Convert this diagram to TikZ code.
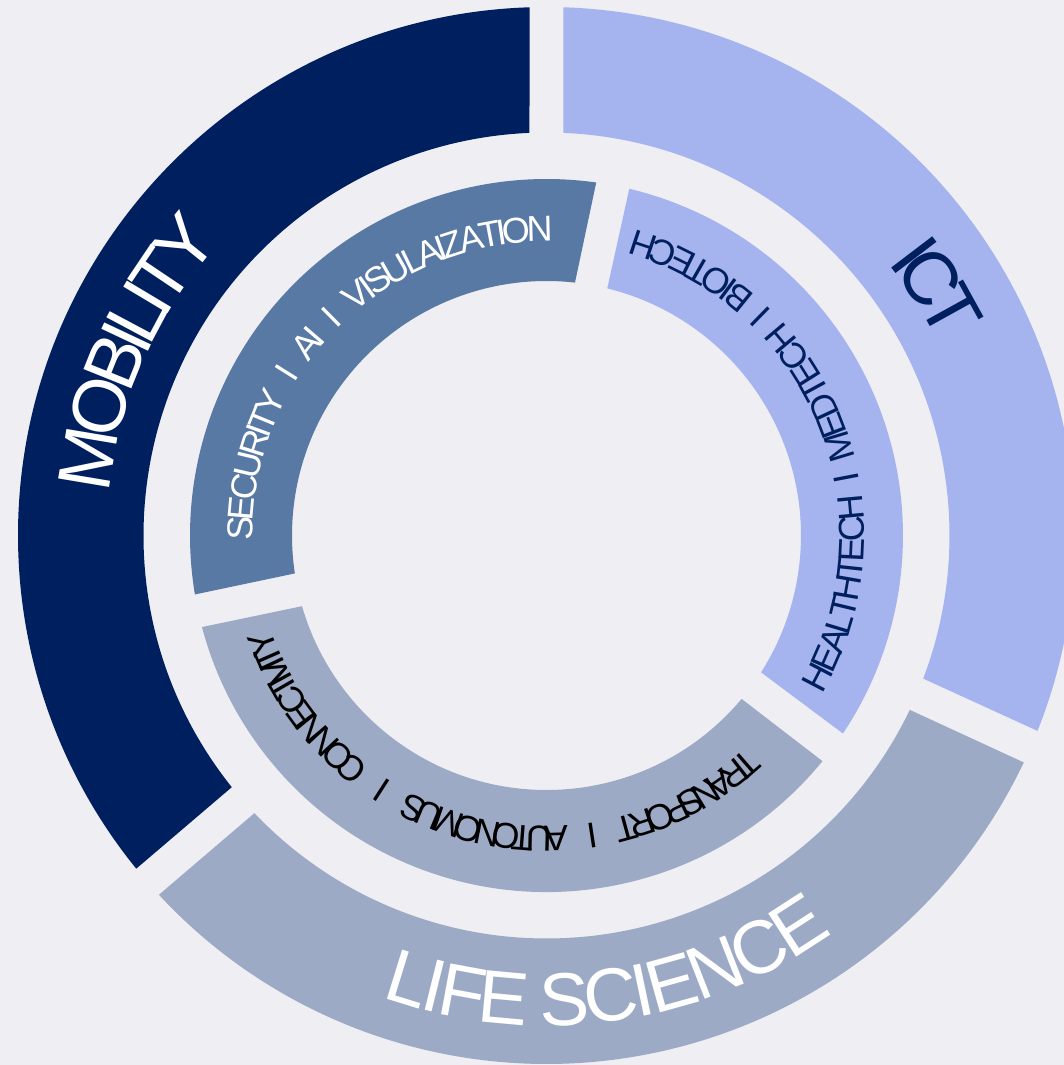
\documentclass[tikz,border=0pt]{standalone}
\usepackage{fontspec}
\setmainfont{Liberation Sans}
\definecolor{bg}{RGB}{239,238,243}
\definecolor{navy}{RGB}{0,31,95}
\definecolor{periw}{RGB}{165,180,238}
\definecolor{grayblue}{RGB}{156,170,198}
\definecolor{steel}{RGB}{88,121,164}
% colour, outer radius, inner radius, outer start, outer end, inner end, inner start
\newcommand{\ringseg}[7]{%
  \fill[#1] (#4:#2pt) arc[start angle=#4, end angle=#5, radius=#2pt]
    -- (#6:#3pt) arc[start angle=#6, end angle=#7, radius=#3pt] -- cycle;}
\newdimen\arcacc
\newdimen\arcpos
\newdimen\arcw
% #1 radius, #2 centre angle, #3 direction (-1 clockwise, tops out; 1 counter-clockwise, tops in)
% #4 tracking (pt), #5 font size (pt), #6 colour, #7 list char/advance(em)
\newcommand{\arctext}[7]{%
  \global\arcacc=0pt\relax
  \foreach \arcch/\arcwv in {#7}{%
    \pgfmathsetlength{\arcw}{\arcwv*#5}%
    \global\advance\arcacc by \arcw
    \global\advance\arcacc by #4pt\relax
  }%
  \global\advance\arcacc by -#4pt\relax
  \global\arcpos=-0.5\arcacc
  \foreach \arcch/\arcwv in {#7}{%
    \pgfmathsetlength{\arcw}{\arcwv*#5}%
    \pgfmathsetmacro\arcang{#2+(#3)*(\the\arcpos+0.5*\the\arcw)/#1*57.29578}%
    \node[arcchar, text=#6, font=\fontsize{#5}{#5}\selectfont, rotate=\arcang+(#3)*90] at (\arcang:#1pt) {\arcch};%
    \global\advance\arcpos by \arcw
    \global\advance\arcpos by #4pt\relax
  }%
}
\tikzset{arcchar/.style={anchor=base, inner sep=0pt, outer sep=0pt}}
\begin{document}
\begin{tikzpicture}
\useasboundingbox (-546.5pt,-529.5pt) rectangle (517.5pt,535.5pt);
\fill[bg] (-546.5pt,-529.5pt) rectangle (517.5pt,535.5pt);
\clip (-546.5pt,-529.5pt) rectangle (517.5pt,535.5pt);
% outer ring
\ringseg{navy}{528.5}{403}{91.84}{219.08}{218.65}{92.42}
\ringseg{grayblue}{528.5}{403}{222.83}{334.57}{334.36}{223.55}
\ringseg{periw}{528.5}{403}{-21.7}{88.18}{87.61}{-20.8}
% inner ring
\ringseg{steel}{356.5}{254.5}{81.98}{189.52}{188.57}{83.57}
\ringseg{grayblue}{356.5}{254.5}{194.88}{320.73}{320.05}{196.13}
\ringseg{periw}{356.5}{254.5}{-33.74}{76.57}{76.18}{-32.53}
% outer texts
\arctext{439}{156.2}{-1}{-9.8}{75}{white}{M/0.833,O/0.778,B/0.667,I/0.278,L/0.556,I/0.278,T/0.611,Y/0.667}
\arctext{437}{32.3}{-1}{-12}{75}{navy}{I/0.278,C/0.722,T/0.611}
\arctext{490}{278.1}{1}{-3.5}{75}{white}{L/0.556,I/0.278,F/0.611,E/0.667,~/0.278,S/0.667,C/0.722,I/0.278,E/0.667,N/0.722,C/0.722,E/0.667}
% inner texts
\arctext{294}{134.9}{-1}{-4.6}{36}{white}{S/0.667,E/0.667,C/0.722,U/0.722,R/0.722,I/0.278,T/0.611,Y/0.667,~/0.667,I/0.278,~/0.667,A/0.667,I/0.278,~/0.667,I/0.278,~/0.667,V/0.667,I/0.278,S/0.667,U/0.722,L/0.556,A/0.667,I/0.278,Z/0.611,A/0.667,T/0.611,I/0.278,O/0.778,N/0.722}
\arctext{318}{22}{1}{-3.5}{36}{navy}{H/0.722,E/0.667,A/0.667,L/0.556,T/0.611,H/0.722,T/0.611,E/0.667,C/0.722,H/0.722,~/0.556,I/0.278,~/0.556,M/0.833,E/0.667,D/0.722,T/0.611,E/0.667,C/0.722,H/0.722,~/0.556,I/0.278,~/0.556,B/0.667,I/0.278,O/0.778,T/0.611,E/0.667,C/0.722,H/0.722}
\arctext{291}{255.9}{-1}{-8.6}{36}{black}{T/0.611,R/0.722,A/0.667,N/0.722,S/0.667,P/0.667,O/0.778,R/0.722,T/0.611,~/0.972,I/0.278,~/0.972,A/0.667,U/0.722,T/0.611,O/0.778,N/0.722,O/0.778,M/0.833,U/0.722,S/0.667,~/0.972,I/0.278,~/0.972,C/0.722,O/0.778,N/0.722,N/0.722,E/0.667,C/0.722,T/0.611,I/0.278,V/0.667,I/0.278,T/0.611,Y/0.667}
\end{tikzpicture}
\end{document}
